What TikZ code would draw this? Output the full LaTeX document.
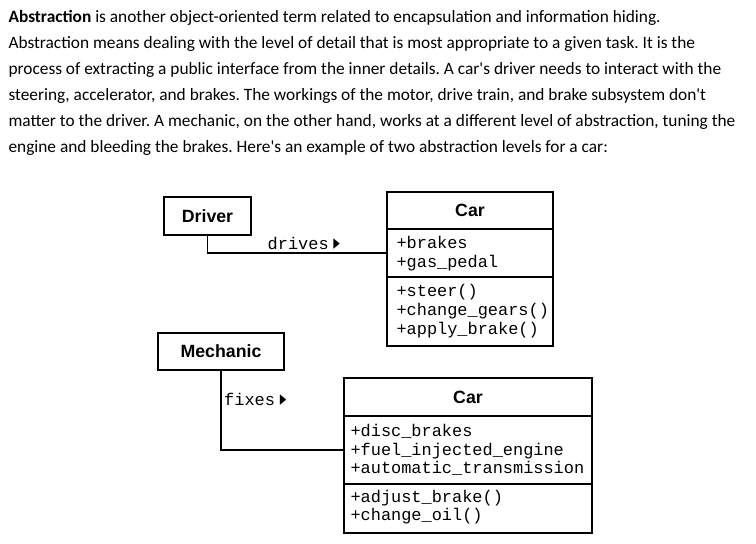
\documentclass[tikz,border=0pt]{standalone}
\usepackage{amssymb}
\usepackage{fontspec}
\setmainfont{Carlito}
\newfontfamily\umlsans{Liberation Sans}
\newfontfamily\umlmono{Liberation Mono}
\newcommand{\navarrow}{\raisebox{0.8pt}{\scalebox{0.6}[1.05]{$\blacktriangleright$}}}

\begin{document}
\frenchspacing
\begin{tikzpicture}[x=0.75pt, y=-0.75pt, line width=0.8pt,
  classbox/.style={draw, fill=white, inner sep=0pt},
  classname/.style={font=\umlsans\bfseries\fontsize{13.3}{15}\selectfont, inner sep=0pt},
  member/.style={font=\umlmono\fontsize{12.7}{14}\selectfont, anchor=base west, inner sep=0pt},
  assoc/.style={font=\umlmono\fontsize{12.7}{14}\selectfont, inner sep=2pt}]
	\useasboundingbox (0,0) rectangle (756,543);
	% introduction
	\node[anchor=north west, align=left, inner sep=0pt, font=\fontsize{13}{19.5}\selectfont] (intro) at (8,10) {%
		\textbf{Abstraction} is another object-oriented term related to encapsulation and information hiding.\\
		Abstraction means dealing with the level of detail that is most appropriate to a given task. It is the\\
		process of extracting a public interface from the inner details. A car\textquotesingle s driver needs to interact with the\\
		steering, accelerator, and brakes. The workings of the motor, drive train, and brake subsystem don\textquotesingle t\\
		matter to the driver. A mechanic, on the other hand, works at a different level of abstraction, tuning the\\
		engine and bleeding the brakes. Here\textquotesingle s an example of two abstraction levels for a car:};
	% driver level
	\node[classbox, classname, minimum width=65.25pt, minimum height=28.5pt] (driver) at (207.5,216) {Driver};
	\node[classbox, minimum width=124.5pt, minimum height=115.5pt] (car1) at (470,269) {};
	\draw (car1.west |- 0,229) -- (car1.east |- 0,229);
	\draw (car1.west |- 0,277) -- (car1.east |- 0,277);
	\node[classname] (car1name) at (470,210.5) {Car};
	\foreach \txt/\y [count=\i] in {+brakes/248, +gas\_pedal/267, +steer()/296, +change\_gears()/315, +apply\_brake()/334}
		\node[member] (car1m\i) at (396,\y) {\txt};
	\draw (driver.south) |- (car1.west |- 0,253) node[assoc, pos=0.77, above] (drives) {drives\kern3pt\navarrow};
	% mechanic level
	\node[classbox, classname, minimum width=94.5pt, minimum height=27.75pt] (mechanic) at (221,351.5) {Mechanic};
	\node[classbox, minimum width=186pt, minimum height=116.25pt] (car2) at (468,455.5) {};
	\draw (car2.west |- 0,416) -- (car2.east |- 0,416);
	\draw (car2.west |- 0,484) -- (car2.east |- 0,484);
	\node[classname] (car2name) at (468,397) {Car};
	\foreach \txt/\y [count=\i] in {+disc\_brakes/436, +fuel\_injected\_engine/455, +automatic\_transmission/473, +adjust\_brake()/502, +change\_oil()/520}
		\node[member] (car2m\i) at (350,\y) {\txt};
	\draw (mechanic.south) |- (car2.west |- 0,450) node[assoc, pos=0.18, right] (fixes) {fixes\kern3pt\navarrow};
\end{tikzpicture}
\end{document}
